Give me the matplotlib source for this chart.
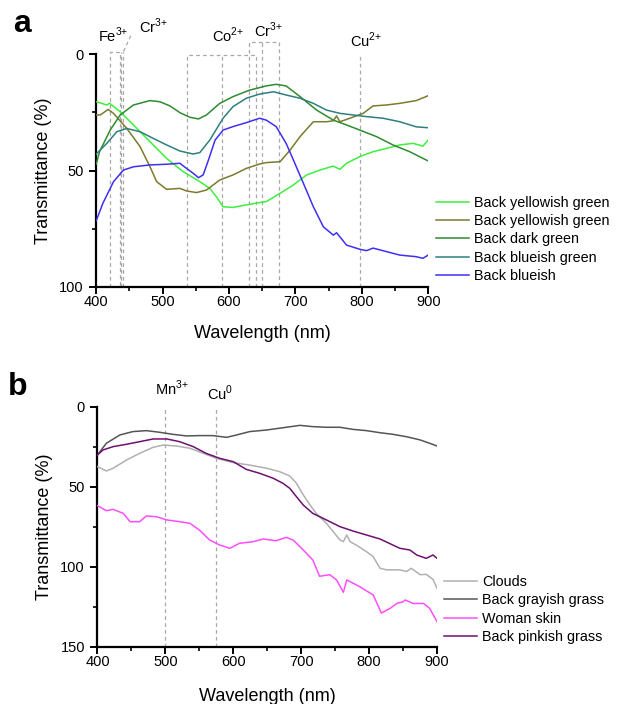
import numpy as np
import matplotlib
matplotlib.use('Agg')
import matplotlib.pyplot as plt
from matplotlib.ticker import MultipleLocator

plt.rcParams['font.family'] = ['Liberation Sans', 'DejaVu Sans']
plt.rcParams['mathtext.fontset'] = 'custom'
plt.rcParams['mathtext.rm'] = 'Liberation Sans'

# ---- panel a data (wavelength nm, transmittance %) ----
a_yg1_x = [400, 416, 420, 436, 456, 481, 506, 531, 556, 571, 581, 591, 606, 626, 646, 656, 677, 697, 717, 737, 757, 767, 777, 797, 817, 837, 857, 877, 892, 900]
a_yg1_y = [20.4, 21.8, 21.0, 24.7, 30.4, 37.6, 44.8, 50.5, 54.8, 57.7, 61.3, 65.6, 65.9, 64.8, 63.8, 63.4, 59.8, 56.2, 51.9, 49.8, 48.1, 49.5, 46.9, 44.0, 41.9, 40.5, 39.0, 38.3, 39.5, 36.9]

a_yg2_x = [400, 406, 418, 426, 446, 466, 481, 491, 506, 526, 536, 551, 566, 586, 606, 626, 646, 656, 677, 692, 707, 727, 747, 757, 762, 767, 782, 802, 817, 837, 857, 882, 900]
a_yg2_y = [26.1, 26.1, 23.7, 25.4, 31.9, 39.7, 48.4, 54.8, 58.1, 57.7, 58.8, 59.5, 58.4, 54.1, 51.9, 49.1, 47.2, 46.6, 46.2, 41.2, 35.4, 29.0, 29.0, 28.6, 26.5, 29.0, 27.5, 25.4, 22.2, 21.8, 21.1, 19.9, 17.8]

a_dg_x = [400, 405, 421, 436, 456, 481, 496, 511, 526, 541, 554, 566, 586, 606, 631, 656, 671, 686, 707, 732, 757, 777, 797, 822, 847, 872, 900]
a_dg_y = [47.2, 41.9, 32.6, 26.1, 21.8, 19.9, 20.4, 22.2, 25.1, 27.1, 27.8, 26.1, 21.1, 18.2, 15.4, 13.6, 12.9, 13.6, 18.2, 24.0, 28.3, 30.4, 32.6, 35.4, 39.0, 41.9, 45.9]

a_bg_x = [400, 416, 431, 446, 466, 486, 506, 526, 546, 556, 571, 591, 606, 626, 646, 667, 686, 707, 727, 747, 767, 787, 807, 832, 857, 882, 900]
a_bg_y = [42.9, 38.3, 33.3, 31.9, 33.3, 36.2, 39.0, 41.6, 42.9, 42.3, 36.9, 27.5, 22.5, 18.9, 17.1, 16.1, 17.5, 18.9, 21.1, 24.0, 25.4, 26.1, 26.8, 27.5, 29.0, 31.2, 31.6]

a_bl_x = [400, 410, 426, 441, 456, 481, 506, 526, 536, 546, 554, 561, 569, 579, 591, 606, 626, 646, 656, 671, 686, 697, 712, 727, 742, 757, 762, 777, 797, 807, 817, 837, 857, 882, 892, 900]
a_bl_y = [71.6, 64.1, 54.8, 49.8, 48.4, 47.6, 47.3, 46.9, 49.1, 51.2, 53.1, 51.9, 45.5, 36.9, 32.6, 31.1, 29.4, 27.5, 28.3, 31.1, 38.3, 45.5, 55.5, 65.6, 74.2, 77.8, 76.8, 82.1, 83.9, 84.5, 83.4, 84.9, 86.4, 87.1, 87.8, 86.4]

a_labels = ['Back yellowish green', 'Back yellowish green', 'Back dark green',
            'Back blueish green', 'Back blueish']
a_colors = ['#3cf03c', '#7b7a2e', '#2e8b2e', '#2f7f7f', '#3f2ff5']

# ---- panel b data ----
b_cl_x = [400, 413, 423, 443, 462, 482, 497, 516, 536, 556, 575, 600, 624, 649, 668, 683, 693, 703, 713, 722, 737, 747, 757, 762, 767, 772, 781, 796, 806, 816, 826, 845, 855, 862, 875, 884, 894, 900]
b_cl_y = [37.5, 40.2, 38.5, 33.3, 29.2, 25.4, 24.0, 24.6, 26.0, 29.2, 32.3, 35.0, 36.5, 38.5, 40.6, 43.3, 47.9, 55.2, 61.5, 66.7, 72.9, 78.1, 83.3, 84.4, 80.2, 84.4, 86.5, 90.6, 93.8, 101, 102, 102, 103, 101, 105, 104.8, 108, 113.5]

b_gg_x = [400, 413, 433, 452, 472, 491, 511, 531, 550, 570, 590, 605, 624, 649, 678, 698, 717, 737, 757, 776, 796, 816, 835, 855, 875, 889, 900]
b_gg_y = [30.2, 22.9, 17.7, 15.6, 15.0, 16.0, 17.3, 18.3, 18.1, 18.1, 19.2, 17.7, 15.6, 14.6, 12.9, 11.7, 12.5, 12.9, 12.9, 14.2, 15.0, 16.3, 17.3, 18.8, 20.8, 22.9, 24.6]

b_ws_x = [400, 413, 423, 438, 448, 462, 472, 487, 502, 521, 536, 550, 565, 580, 595, 609, 629, 644, 663, 678, 688, 703, 717, 727, 742, 752, 762, 767, 786, 806, 818, 831, 841, 850, 853, 865, 880, 889, 900]
b_ws_y = [61.9, 65.0, 64.2, 66.7, 71.9, 71.9, 68.3, 68.8, 70.8, 71.9, 72.9, 77.1, 83.3, 86.5, 88.5, 85.4, 84.4, 82.7, 83.8, 81.7, 83.3, 89.6, 95.8, 106, 105, 108.3, 116, 108.3, 112.5, 117.7, 129, 126, 122.9, 121.9, 120.8, 123, 123, 126, 134.4]

b_pg_x = [400, 408, 423, 443, 462, 482, 502, 521, 541, 560, 580, 600, 619, 639, 659, 673, 683, 693, 703, 717, 737, 757, 776, 796, 816, 835, 845, 860, 870, 884, 894, 900]
b_pg_y = [30.2, 27.1, 25.0, 23.5, 21.9, 20.2, 20.2, 21.9, 25.0, 29.2, 32.3, 34.4, 39.2, 41.7, 44.8, 47.9, 51.0, 56.3, 61.5, 66.7, 70.8, 75.0, 77.7, 80.2, 82.7, 86.5, 88.5, 89.6, 92.7, 94.8, 92.7, 94.8]

b_labels = ['Clouds', 'Back grayish grass', 'Woman skin', 'Back pinkish grass']
b_colors = ['#b0b0b0', '#555555', '#ff4dff', '#6e1070']

fig = plt.figure(figsize=(6.17, 7.04), dpi=100)
dash = dict(color='#a8a8a8', lw=0.9, ls=(0, (3, 2.5)), clip_on=False, zorder=1)


def style(ax, ymax, ymajor, yminor, xpad):
    ax.set_xlim(400, 900)
    ax.set_ylim(ymax, 0)
    ax.xaxis.set_major_locator(MultipleLocator(100))
    ax.xaxis.set_minor_locator(MultipleLocator(50))
    ax.yaxis.set_major_locator(MultipleLocator(ymajor))
    ax.yaxis.set_minor_locator(MultipleLocator(yminor))
    for s in ['top', 'right']:
        ax.spines[s].set_visible(False)
    for s in ['left', 'bottom']:
        ax.spines[s].set_linewidth(1.6)
    ax.tick_params(which='major', direction='out', length=5, width=1.4, labelsize=10.5)
    ax.tick_params(which='minor', direction='out', length=3, width=1.2)
    ax.tick_params(axis='x', which='major', pad=0.8)
    ax.tick_params(axis='y', which='major', pad=4)
    ax.set_xlabel('Wavelength (nm)', fontsize=13, labelpad=xpad)
    ax.set_ylabel('Transmittance (%)', fontsize=13, labelpad=5)


leg = dict(loc='lower left', frameon=False, fontsize=10.4, handlelength=2.3,
           handletextpad=0.35, labelspacing=0.3, borderpad=0, borderaxespad=0)

# ---------- panel a ----------
ax = fig.add_axes([0.156, 0.5928, 0.538, 0.330])
style(ax, 100, 50, 25, 12)
xs = [a_yg1_x, a_yg2_x, a_dg_x, a_bg_x, a_bl_x]
ys = [a_yg1_y, a_yg2_y, a_dg_y, a_bg_y, a_bl_y]
for x, y, c, l in zip(xs, ys, a_colors, a_labels):
    ax.plot(x, y, color=c, lw=1.1, label=l, zorder=3)

# dashed band markers
ax.plot([420, 420, 436, 436], [100, -1.2, -1.2, 100], **dash)
ax.plot([438, 438], [100, -1.2], **dash)
ax.plot([441, 441], [100, -1.2], **dash)
ax.plot([441, 452], [-1.2, -8], **dash)
ax.plot([536, 536, 640, 640], [100, 0.3, 0.3, 100], **dash)
ax.plot([590, 590], [100, 0.3], **dash)
ax.plot([630, 630, 676, 676], [100, -5.2, -5.2, 100], **dash)
ax.plot([650, 650], [100, -5.2], **dash)
ax.plot([797, 797], [100, 0.7], **dash)

tk = dict(fontsize=10.5, ha='center', va='center', clip_on=False)
ax.text(425, -8.3, 'Fe$^{3{+}}$', **tk)
ax.text(486, -11.9, 'Cr$^{3{+}}$', **tk)
ax.text(599, -8.3, 'Co$^{2{+}}$', **tk)
ax.text(659, -10.5, 'Cr$^{3{+}}$', **tk)
ax.text(807, -5.9, 'Cu$^{2{+}}$', **tk)

ax.legend(bbox_to_anchor=(1.023, 0.016), **leg)
fig.text(0.022, 0.9545, 'a', fontsize=23, fontweight='bold', va='baseline')

# ---------- panel b ----------
bx = fig.add_axes([0.158, 0.0814, 0.5504, 0.341])
style(bx, 150, 50, 25, 14)
xs = [b_cl_x, b_gg_x, b_ws_x, b_pg_x]
ys = [b_cl_y, b_gg_y, b_ws_y, b_pg_y]
for x, y, c, l in zip(xs, ys, b_colors, b_labels):
    bx.plot(x, y, color=c, lw=1.1, label=l, zorder=3)

bx.plot([499, 499], [150, 0], **dash)
bx.plot([574, 574], [150, 0], **dash)
bx.text(509, -11.5, 'Mn$^{3{+}}$', **tk)
bx.text(581, -8.3, 'Cu$^{0}$', **tk)

bx.legend(bbox_to_anchor=(1.02, 0.011), **leg)
fig.text(0.013, 0.439, 'b', fontsize=23, fontweight='bold', va='baseline')

fig.savefig('out.png', dpi=100)
